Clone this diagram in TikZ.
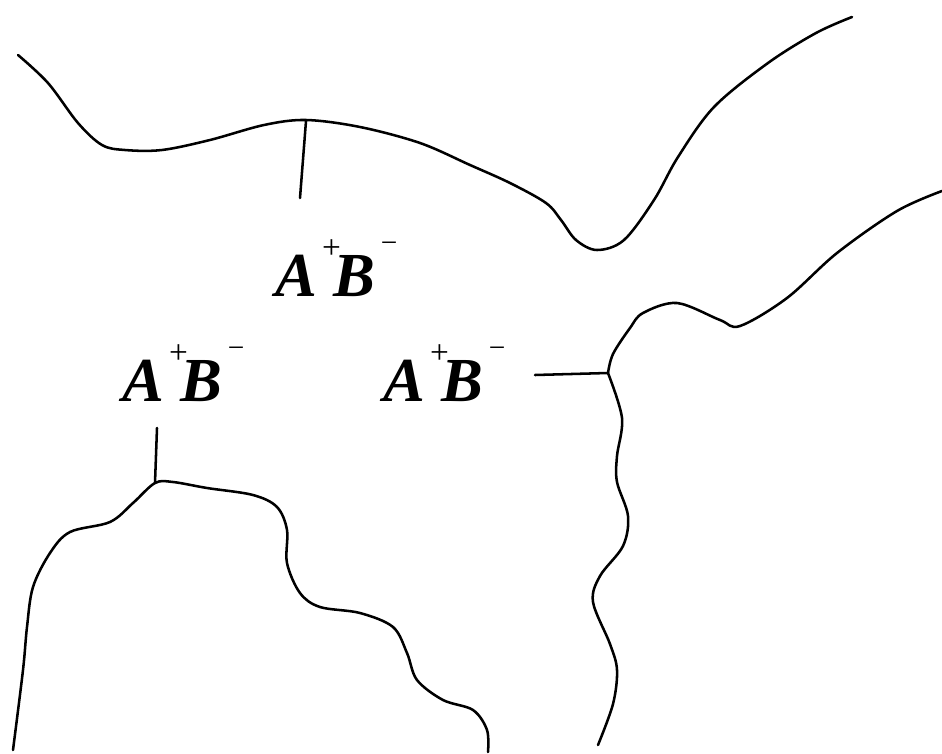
\documentclass[tikz,border=0pt]{standalone}
\usepackage{fontspec}
\newfontfamily\labfont{Liberation Serif}
\newcommand{\ABlab}{\labfont\bfseries\itshape A\kern0.08em\raisebox{0.6em}{\mdseries\upshape\fontsize{25}{25}\selectfont +}\kern-0.12em B\kern0.09em\raisebox{0.7em}{\mdseries\upshape\fontsize{22}{22}\selectfont −}}
\begin{document}
\begin{tikzpicture}[x=0.75pt,y=-0.75pt,
  bound/.style={line width=1.9pt,line cap=round,line join=round},
  lab/.style={inner sep=0pt,anchor=base west,font=\fontsize{47}{47}\selectfont}]
\useasboundingbox (0,0) rectangle (942,753);
% junctions
\coordinate (j1) at (306,121);
\coordinate (j2) at (608,373);
\coordinate (j3) at (155,483);
\coordinate (s1) at (300,198);
\coordinate (s2) at (535,375);
\coordinate (s3) at (157,428);
% labels
\node[lab] (l1) at (275,296) {\ABlab};
\node[lab] (l2) at (122,401) {\ABlab};
\node[lab] (l3) at (383,401) {\ABlab};
% top boundary
\draw[bound] plot[smooth,tension=0.55] coordinates {(18,55) (48,83) (78,123) (102,145) (125,150) (162,150) (210,140) (264,125) (306,120) (360,127) (420,143) (470,165) (510,183) (546,203) (561,220) (576,240) (597,250) (624,240) (654,200) (678,157) (714,107) (768,63) (816,33) (852,17)};
\draw[bound] (j1) -- (s1);
% right boundary
\draw[bound] plot[smooth,tension=0.55] coordinates {(942,191) (897,211) (837,253) (787,298) (740,326) (720,320) (677,303) (643,313) (630,328) (613,354) (608,373)};
\draw[bound] plot[smooth,tension=0.55] coordinates {(608,373) (622,418) (617,456) (617,482) (628,516) (623,546) (600,576) (593,602) (610,644) (617,670) (613,704) (598,745)};
\draw[bound] (s2) -- (j2);
% bottom-left boundary
\draw[bound] plot[smooth,tension=0.55] coordinates {(13,750) (23,670) (27,627) (33,587) (50,553) (70,532) (110,522) (133,503) (155,483) (173,482) (207,488) (253,495) (277,507) (287,530) (287,563) (300,593) (320,607) (360,613) (393,627) (407,653) (417,680) (443,700) (473,710) (487,730) (488,752)};
\draw[bound] (s3) -- (j3);
\end{tikzpicture}
\end{document}
